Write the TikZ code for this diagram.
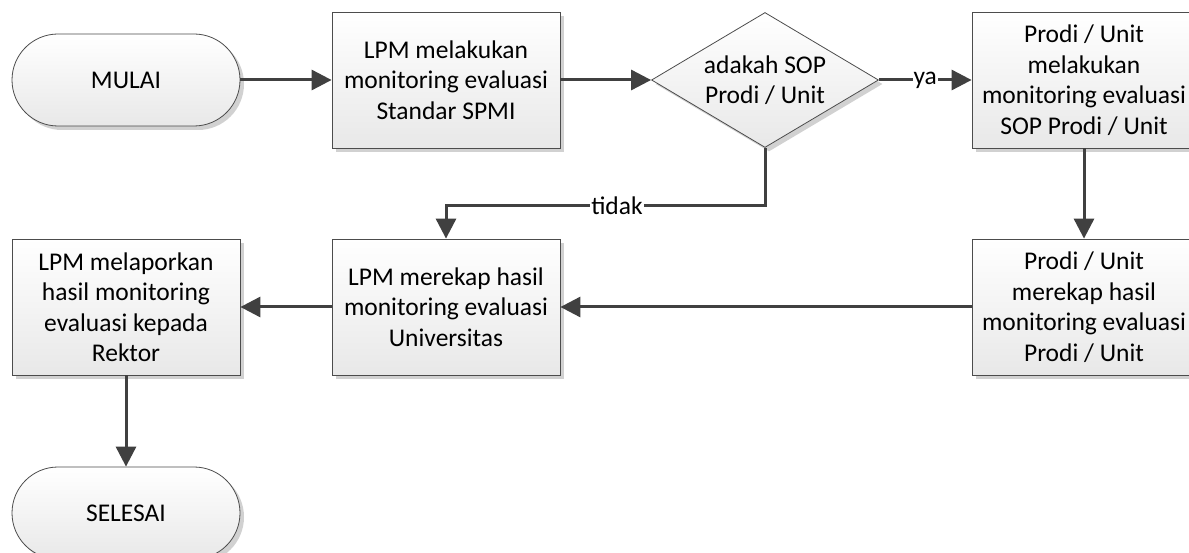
\documentclass[tikz,border=0pt]{standalone}
\usepackage{fontspec}
\setmainfont{Carlito}
\usetikzlibrary{arrows.meta,shadows,shapes.geometric}
\begin{document}
\begin{tikzpicture}[x=1pt,y=-1pt,
  base/.style={draw=black!70, line width=0.8pt, top color=white, bottom color=black!9,
    drop shadow={shadow xshift=4pt, shadow yshift=-4pt, fill=black!18, opacity=1},
    font=\fontsize{25.5}{30.5}\selectfont, align=center, inner sep=0pt, text=black},
  procbox/.style={base, rectangle, minimum width=228pt, minimum height=136pt},
  term/.style={base, rectangle, rounded corners=46pt, minimum width=228pt, minimum height=92pt},
  decide/.style={base, diamond, minimum width=227pt, minimum height=135pt},
  conn/.style={draw=black!75, line width=3pt, -{Triangle[length=20pt,width=20pt]}},
  lbl/.style={fill=white, inner sep=1pt, font=\fontsize{25.5}{30}\selectfont, text=black}
]
\fill[white] (0,0) rectangle (1189,553);
\useasboundingbox (0,0) rectangle (1189,553);
\clip (0,0) rectangle (1189,553);

\node[term] (mulai) at (126,80) {MULAI};
\node[procbox] (b1) at (446,80) {LPM melakukan\\monitoring evaluasi\\Standar SPMI};
\node[decide] (d) at (765,80) {};
\node[font=\fontsize{25.5}{30.5}\selectfont, align=center, text=black] (dt) at (d.center) {adakah SOP\\Prodi / Unit};
\node[procbox, minimum width=224pt] (b3) at (1084,80) {Prodi / Unit\\melakukan\\monitoring evaluasi\\SOP Prodi / Unit};
\node[procbox, minimum width=224pt] (b4) at (1084,307) {Prodi / Unit\\merekap hasil\\monitoring evaluasi\\Prodi / Unit};
\node[procbox] (b5) at (446,307) {LPM merekap hasil\\monitoring evaluasi\\Universitas};
\node[procbox] (b6) at (126,307) {LPM melaporkan\\hasil monitoring\\evaluasi kepada\\Rektor};
\node[term] (selesai) at (126,513) {SELESAI};

\draw[conn] (mulai) -- (b1);
\draw[conn] (b1) -- (d);
\draw[conn] (d.east) -- node[lbl]{ya} (b3.west);
\draw[conn] (b3) -- (b4);
\draw[conn] (d.south) -- ++(0,58) -| node[lbl, pos=0.232]{tidak} (b5.north);
\draw[conn] (b4) -- (b5);
\draw[conn] (b5) -- (b6);
\draw[conn] (b6) -- (selesai);
\end{tikzpicture}
\end{document}
